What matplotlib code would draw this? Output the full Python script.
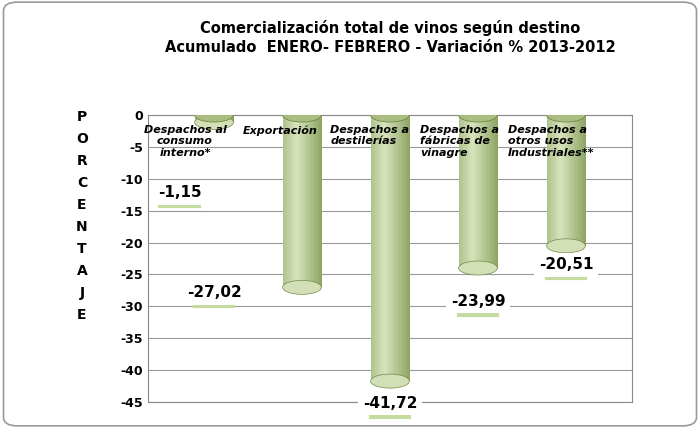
import matplotlib
matplotlib.use("Agg")
import matplotlib.pyplot as plt
import numpy as np
from matplotlib.patches import Ellipse, Rectangle, FancyBboxPatch

categories = ["Despachos al\nconsumo\ninterno*", "Exportación", "Despachos a\ndestilerías",
              "Despachos a\nfábricas de\nvinagre", "Despachos a\notros usos\nIndustriales**"]
values = [-1.15, -27.02, -41.72, -23.99, -20.51]
labels = ["-1,15", "-27,02", "-41,72", "-23,99", "-20,51"]
yticks = [0, -5, -10, -15, -20, -25, -30, -35, -40, -45]

fig = plt.figure(figsize=(7, 4.28), dpi=100)
fig.patches.append(FancyBboxPatch((0.005, 0.005), 0.99, 0.99, boxstyle="round,pad=0,rounding_size=0.02",
                                  transform=fig.transFigure, fill=False, ec="#999999", lw=1.2))
ax = fig.add_axes([148/700, 1-402/428, 484/700, 287/428])
ax.set_facecolor("white")
for s in ax.spines.values():
    s.set_color("#888888")
ax.set_yticks(yticks)
ax.set_yticklabels([str(t) for t in yticks], fontsize=9, fontweight="bold")
ax.set_xticks([])
ax.yaxis.grid(True, color="#999999", lw=0.8)
ax.set_axisbelow(True)
ax.tick_params(axis="y", length=0)

grad = np.linspace(0, 1, 100)
shade = 1 - np.abs(grad - 0.35) * 1.3
img = np.zeros((1, 100, 3))
base_dark = np.array([0x7f, 0x99, 0x55]) / 255
base_light = np.array([0xd8, 0xe4, 0xbc]) / 255
for i in range(100):
    t = np.clip(shade[i], 0, 1)
    img[0, i] = base_dark + (base_light - base_dark) * t

w = 0.44
eh = 2.2
for i, v in enumerate(values):
    rect = Rectangle((i - w/2, v), w, -v, transform=ax.transData)
    im = ax.imshow(img, extent=(i - w/2, i + w/2, v, 0), aspect="auto", zorder=3)
    im.set_clip_path(rect)
    ax.add_patch(Ellipse((i, v), w, eh, fc=tuple(img[0, 30]), ec="#6f8a45", lw=0.5, zorder=3))
    ax.add_patch(Ellipse((i, 0), w, eh, fc="#a9bd80", ec="#6f8a45", lw=0.6, zorder=4))
ax.set_xlim(-0.75, 4.75)
ax.set_ylim(-45, 0)

lab_pos = [(-0.39, -12.2), (0, -27.9), (2, -45.2), (3, -29.2), (4, -23.5)]
for (x, y), t in zip(lab_pos, labels):
    ax.text(x, y, t, ha="center", va="center", fontsize=11, fontweight="bold", zorder=6,
            bbox=dict(boxstyle="square,pad=0.3", fc="white", ec="none"), clip_on=False)
    ax.plot([x - 0.22, x + 0.22], [y - 2.1, y - 2.1], color="#c5dca0", lw=3, zorder=5, clip_on=False)

cat_pos = [(-0.33, -1.6, "center"), (0.33, -1.6, "left"), (1.32, -1.6, "left"),
           (2.34, -1.6, "left"), (3.34, -1.6, "left")]
for (x, y, ha), t in zip(cat_pos, categories):
    ax.text(x, y, t, ha=ha, va="top", fontsize=8, fontstyle="italic", fontweight="bold",
            zorder=6, linespacing=1.15)

fig.text(390/700, 1-28/428, "Comercialización total de vinos según destino", ha="center", va="center",
         fontsize=10.5, fontweight="bold")
fig.text(390/700, 1-47/428, "Acumulado  ENERO- FEBRERO - Variación % 2013-2012", ha="center", va="center",
         fontsize=10.5, fontweight="bold")
for k, ch in enumerate("PORCENTAJE"):
    fig.text(82/700, 1-(117 + k*22)/428, ch, ha="center", va="center", fontsize=10, fontweight="bold")

fig.savefig("out.png", dpi=100)
